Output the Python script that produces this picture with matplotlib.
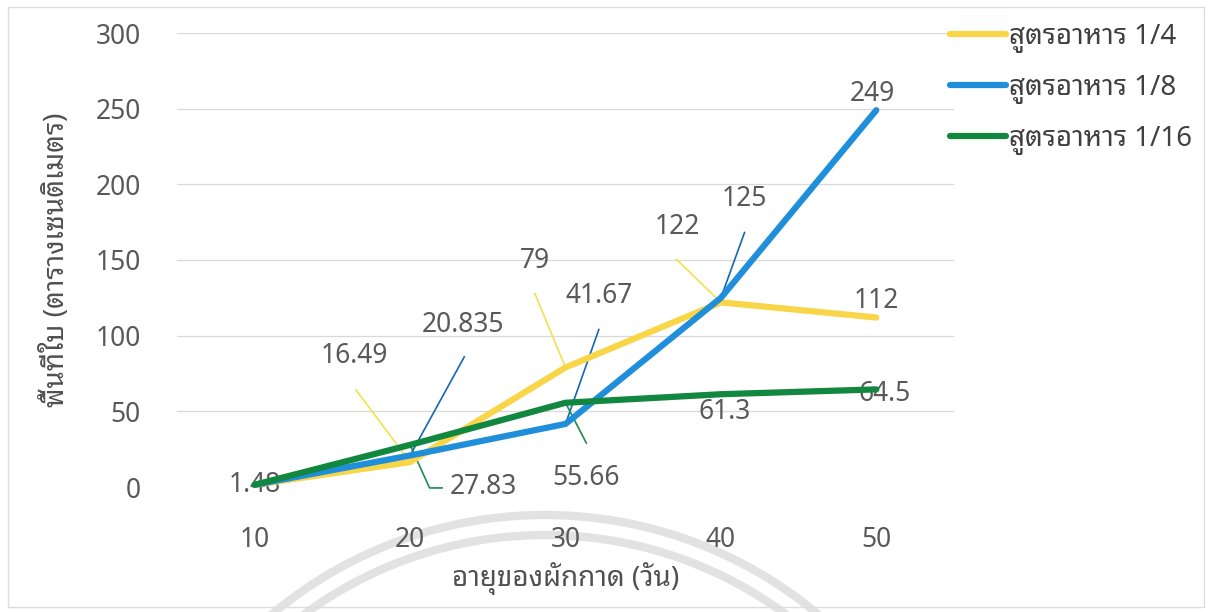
import matplotlib
matplotlib.use('agg')
import matplotlib.pyplot as plt
import matplotlib.transforms as mtransforms
from matplotlib.patches import Arc, Rectangle
from matplotlib.lines import Line2D

plt.rcParams['font.family'] = ['Noto Sans Thai Looped', 'Noto Sans Thai', 'Sarabun', 'DejaVu Sans']

# data
days = [10, 20, 30, 40, 50]
series_names = ['สูตรอาหาร 1/4', 'สูตรอาหาร 1/8', 'สูตรอาหาร 1/16']
area_1_4 = [1.48, 16.49, 79, 122, 112]
area_1_8 = [1.48, 20.835, 41.67, 125, 249]
area_1_16 = [1.48, 27.83, 55.66, 61.3, 64.5]
label_1_4 = ['1.48', '16.49', '79', '122', '112']
label_1_8 = ['1.48', '20.835', '41.67', '125', '249']
label_1_16 = ['1.48', '27.83', '55.66', '61.3', '64.5']

xlabel = 'อายุของผักกาด (วัน)'
ylabel = 'พื้นที่ใบ (ตารางเซนติเมตร)'
yticks = [0, 50, 100, 150, 200, 250, 300]

colors = ['#F9D548', '#1F8FDB', '#12873F']
leader_colors = ['#F4E04C', '#1566B8', '#1F8C4E']
text_col = '#595959'

# label offsets (points) and leader paths (points, relative to the point)
label_off = [
    [(0, 0), (-40, 76), (-22, 77), (-31, 54), (0, 12)],
    [(0, 0), (38, 94), (24, 92), (17, 71), (-3, 12)],
    [(0, 0), (53, -30), (15, -54), (3, -13), (6, -3)],
]
leaders = [
    [None, [(0, 0), (-39, 52)], [(0, 0), (-22, 53)], [(0, 0), (-32, 31)], None],
    [None, [(0, 0), (39, 71)], [(0, 0), (24, 68)], [(0, 0), (17, 47)], None],
    [None, [(0, 0), (14, -31), (23, -31)], [(0, 0), (15, -29)], None, None],
]

fig = plt.figure(figsize=[12.15, 6.12], dpi=100)
ax = fig.add_axes([177/1215, 125/612, 777/1215, 454/612])
ax.set_facecolor('none')

# faint watermark arcs and chart frame (scan)
for diam in [8.5, 8.1]:
    fig.add_artist(Arc((5.45, -3.28), diam, diam, theta1=30, theta2=150,
                       transform=fig.dpi_scale_trans, color='#e2e2e2', lw=6, zorder=0))
fig.add_artist(Rectangle((8/1215, 5/612), 1196/1215, 600/612, transform=fig.transFigure,
                         fill=False, edgecolor='#dddddd', lw=1, zorder=0))

all_vals = [area_1_4, area_1_8, area_1_16]
all_labels = [label_1_4, label_1_8, label_1_16]

for i in range(3):
    ax.plot(days, all_vals[i], color=colors[i], lw=4.5, solid_capstyle='round',
            solid_joinstyle='round', label=series_names[i], zorder=3 + i, clip_on=False)

drawn = set()
for i in range(3):
    for j in range(len(days)):
        x, v = days[j], all_vals[i][j]
        path = leaders[i][j]
        if path is not None:
            tr = fig.dpi_scale_trans + mtransforms.ScaledTranslation(x, v, ax.transData)
            ax.plot([p[0]/72 for p in path], [p[1]/72 for p in path], transform=tr,
                    color=leader_colors[i], lw=1.2, clip_on=False, zorder=2)
        key = (x, all_labels[i][j], label_off[i][j])
        if key in drawn:
            continue
        drawn.add(key)
        ax.annotate(all_labels[i][j], xy=(x, v), xytext=label_off[i][j],
                    textcoords='offset points', ha='center', va='center',
                    fontsize=19, color=text_col, zorder=1)

ax.set_xlim(5, 55)
ax.set_ylim(0, 300)
ax.set_xticks(days)
ax.set_yticks(yticks)
ax.tick_params(axis='both', length=0, labelsize=19, labelcolor=text_col)
ax.tick_params(axis='y', pad=26)
ax.tick_params(axis='x', pad=28)
for s in ax.spines.values():
    s.set_visible(False)
ax.grid(axis='y', color='#d9d9d9', lw=0.9)
ax.set_axisbelow(True)

ax.set_xlabel(xlabel, fontsize=20, color='#505050', labelpad=6)
ax.set_ylabel(ylabel, fontsize=20, color='#505050', labelpad=18)

handles = [Line2D([], [], color=c, lw=4.5, solid_capstyle='round') for c in colors]
fig.legend(handles, series_names, loc='upper left', bbox_to_anchor=(950/1215, 589/612),
           frameon=False, fontsize=20, labelcolor='#404040', borderpad=0, borderaxespad=0,
           handlelength=2.0, handletextpad=0.12, labelspacing=0.75)

fig.savefig('out.png', dpi=100)
